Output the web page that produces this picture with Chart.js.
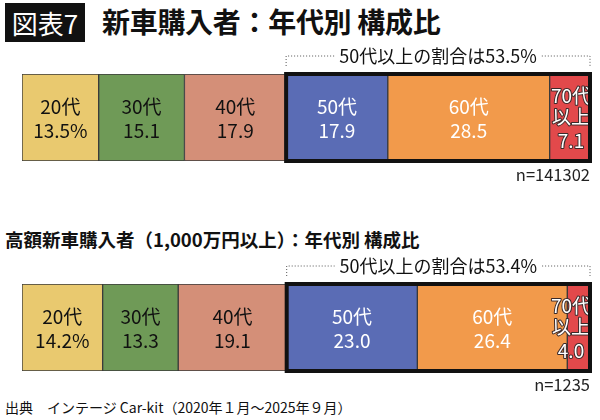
<!DOCTYPE html>
<html>
<head>
<meta charset="utf-8">
<script src="https://cdn.jsdelivr.net/npm/chart.js@4"></script>
<style>
  html, body { margin: 0; padding: 0; background: #fff; }
  body { width: 600px; height: 420px; position: relative; overflow: hidden;
         font-family: "Noto Sans CJK JP", "Noto Sans", sans-serif; color: #111; }
  .tag { position: absolute; left: 5px; top: 3px; width: 80px; height: 39px; background: #111;
         color: #fff; font-size: 26px; line-height: 39px; text-align: center; font-weight: 400; }
  .title { position: absolute; left: 102px; top: 0px; font-size: 28px; font-weight: 700;
           letter-spacing: -0.3px; line-height: 42px; white-space: nowrap; }
  .subtitle { position: absolute; left: 5px; top: 225px; font-size: 18.5px; font-weight: 700;
              line-height: 28px; white-space: nowrap; letter-spacing: 0px; }
  .source { position: absolute; left: 5px; top: 397px; font-size: 14px; line-height: 20px; white-space: nowrap; }
  canvas { position: absolute; left: 0; }
  #c1 { top: 40px; }
  #c2 { top: 250px; }
</style>
</head>
<body>
<div class="tag">図表7</div>
<div class="title">新車購入者：年代別 構成比</div>
<div class="subtitle">高額新車購入者（1,000万円以上）：年代別 構成比</div>
<div class="source">出典　インテージ Car-kit（2020年１月～2025年９月）</div>
<canvas id="c1" width="600" height="150" style="width:600px;height:150px"></canvas>
<canvas id="c2" width="600" height="150" style="width:600px;height:150px"></canvas>
<script>
// ---- data ----
const ageGroups = ['20代', '30代', '40代', '50代', '60代', '70代以上'];
const allBuyers = [13.5, 15.1, 17.9, 17.9, 28.5, 7.1];
const premiumBuyers = [14.2, 13.3, 19.1, 23.0, 26.4, 4.0];
const seniorShares = [53.5, 53.4];
const sampleSizes = ['n=141302', 'n=1235'];
const seniorStartIndex = 3;

// ---- styles ----
const segColors = ['#e9c96f', '#6f9a57', '#d48f78', '#5a6cb5', '#f29a4b', '#e2494b'];
const textColors = ['#111', '#111', '#111', '#fff', '#fff', '#fff'];
const FONT = '"Noto Sans CJK JP", "Noto Sans", sans-serif';

const overlay = {
  id: 'overlay',
  afterDatasetsDraw(chart, args, opts) {
    const ctx = chart.ctx;
    const area = chart.chartArea;
    const els = chart.data.datasets.map((d, i) => chart.getDatasetMeta(i).data[0].getProps(['x', 'y', 'base', 'height'], true));
    const top = area.top, bottom = area.bottom;
    const x0 = els[seniorStartIndex].base;
    const x1 = els[els.length - 1].x;
    ctx.save();
    // segment labels
    ctx.textAlign = 'center';
    ctx.textBaseline = 'middle';
    ctx.font = '19px ' + FONT;
    els.forEach((el, i) => {
      const cx = (el.x + el.base) / 2;
      const cy = el.y;
      const v = chart.data.datasets[i].data[0];
      const valTxt = v.toFixed(1) + (i === 0 ? '%' : '');
      const name = chart.data.datasets[i].label;
      ctx.fillStyle = textColors[i];
      if (name.length > 3) {
        const tx = x1 - 19;
        const lines = [[name.slice(0, 3), cy - 22], [name.slice(3), cy - 1], [valTxt, cy + 23]];
        lines.forEach(([t, y]) => {
          ctx.lineWidth = 2; ctx.strokeStyle = '#3a2a2a'; ctx.lineJoin = 'round';
          ctx.strokeText(t, tx, y);
          ctx.fillStyle = '#fff';
          ctx.fillText(t, tx, y);
        });
      } else {
        ctx.fillText(name, cx, cy - 11);
        ctx.fillText(valTxt, cx, cy + 13);
      }
    });
    // thick box around 50+ segments
    ctx.lineWidth = 4;
    ctx.strokeStyle = '#111';
    ctx.lineJoin = 'miter';
    ctx.strokeRect(x0, top, x1 - x0, bottom - top);
    // bracket
    const by = top - 18;
    ctx.lineWidth = 1;
    ctx.strokeStyle = '#555';
    ctx.setLineDash([1, 2]);
    ctx.font = '18px ' + FONT;
    const label = '50代以上の割合は' + opts.share.toFixed(1) + '%';
    const cxm = (x0 + x1) / 2;
    const tw = ctx.measureText(label).width;
    ctx.beginPath();
    ctx.moveTo(x0, top - 8); ctx.lineTo(x0, by); ctx.lineTo(cxm - tw / 2 - 5, by);
    ctx.moveTo(cxm + tw / 2 + 5, by); ctx.lineTo(x1, by); ctx.lineTo(x1, top - 8);
    ctx.stroke();
    ctx.setLineDash([]);
    ctx.fillStyle = '#111';
    ctx.fillText(label, cxm, by);
    // sample size
    ctx.font = '16.5px ' + FONT;
    ctx.textAlign = 'right';
    ctx.fillStyle = '#222';
    ctx.fillText(opts.n, x1, bottom + 14);
    ctx.restore();
  }
};

function makeChart(id, values, share, n) {
  return new Chart(document.getElementById(id), {
    type: 'bar',
    data: {
      labels: [''],
      datasets: ageGroups.map((g, i) => ({
        label: g,
        data: [values[i]],
        backgroundColor: segColors[i],
        borderColor: '#3a3a3a',
        borderWidth: 1,
        borderSkipped: false,
        barPercentage: 1,
        categoryPercentage: 1
      }))
    },
    options: {
      indexAxis: 'y',
      responsive: false,
      animation: false,
      devicePixelRatio: 1,
      layout: { padding: { left: 22, right: 10, top: 34, bottom: 29 } },
      scales: {
        x: { stacked: true, min: 0, max: 100, display: false },
        y: { stacked: true, display: false }
      },
      plugins: {
        legend: { display: false },
        tooltip: { enabled: false },
        overlay: { share: share, n: n }
      }
    },
    plugins: [overlay]
  });
}

makeChart('c1', allBuyers, seniorShares[0], sampleSizes[0]);
makeChart('c2', premiumBuyers, seniorShares[1], sampleSizes[1]);
</script>
</body>
</html>
